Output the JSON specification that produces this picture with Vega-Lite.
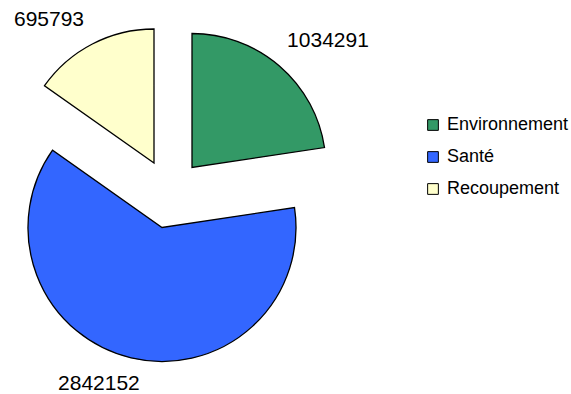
{
  "$schema": "https://vega.github.io/schema/vega-lite/v6.json",
  "autosize": {"type": "none"},
  "width": 340,
  "height": 387,
  "padding": {"left": 0, "top": 0, "right": 231, "bottom": 7},
  "background": "white",
  "config": {"view": {"stroke": null}, "font": "Liberation Sans"},
  "data": {"values": [
    {"category": "Environnement", "value": 1034291, "k": 1},
    {"category": "Santé", "value": 2842152, "k": 2},
    {"category": "Recoupement", "value": 695793, "k": 3}
  ]},
  "encoding": {
    "theta": {"field": "value", "type": "quantitative", "stack": true},
    "order": {"field": "k", "type": "quantitative"}
  },
  "layer": [
    {
      "mark": {"type": "arc", "radius": 134, "stroke": "black", "strokeWidth": 1.3, "xOffset": 22, "yOffset": -26},
      "encoding": {
        "color": {"field": "category", "type": "nominal",
          "scale": {"domain": ["Environnement", "Santé", "Recoupement"], "range": ["#339966", "#3366FF", "#FFFFCC"]},
          "legend": {"title": null, "orient": "none", "legendX": 424, "legendY": 116, "symbolType": "square", "symbolSize": 115, "symbolStrokeColor": "black", "symbolStrokeWidth": 1, "labelFont": "Liberation Sans", "labelFontSize": 18, "labelColor": "black", "rowPadding": 14, "labelOffset": 5}},
        "opacity": {"condition": {"test": "datum.category === 'Environnement'", "value": 1}, "value": 0}
      }
    },
    {
      "mark": {"type": "arc", "radius": 134, "stroke": "black", "strokeWidth": 1.3, "xOffset": -8, "yOffset": 34},
      "encoding": {
        "color": {"field": "category", "type": "nominal"},
        "opacity": {"condition": {"test": "datum.category === 'Santé'", "value": 1}, "value": 0}
      }
    },
    {
      "mark": {"type": "arc", "radius": 134, "stroke": "black", "strokeWidth": 1.3, "xOffset": -16, "yOffset": -30.5},
      "encoding": {
        "color": {"field": "category", "type": "nominal"},
        "opacity": {"condition": {"test": "datum.category === 'Recoupement'", "value": 1}, "value": 0}
      }
    },
    {
      "mark": {"type": "text", "radius": 200, "font": "Liberation Sans", "fontSize": 21, "color": "black", "align": "center", "baseline": "middle", "xOffset": 27.5, "yOffset": -1},
      "encoding": {
        "text": {"condition": {"test": "datum.category === 'Environnement'", "field": "value", "type": "quantitative", "format": "d"}, "value": ""}
      }
    },
    {
      "mark": {"type": "text", "radius": 200, "font": "Liberation Sans", "fontSize": 21, "color": "black", "align": "center", "baseline": "middle", "xOffset": -25, "yOffset": -4.6},
      "encoding": {
        "text": {"condition": {"test": "datum.category === 'Santé'", "field": "value", "type": "quantitative", "format": "d"}, "value": ""}
      }
    },
    {
      "mark": {"type": "text", "radius": 200, "font": "Liberation Sans", "fontSize": 21, "color": "black", "align": "center", "baseline": "middle", "xOffset": -29, "yOffset": 4},
      "encoding": {
        "text": {"condition": {"test": "datum.category === 'Recoupement'", "field": "value", "type": "quantitative", "format": "d"}, "value": ""}
      }
    }
  ]
}
